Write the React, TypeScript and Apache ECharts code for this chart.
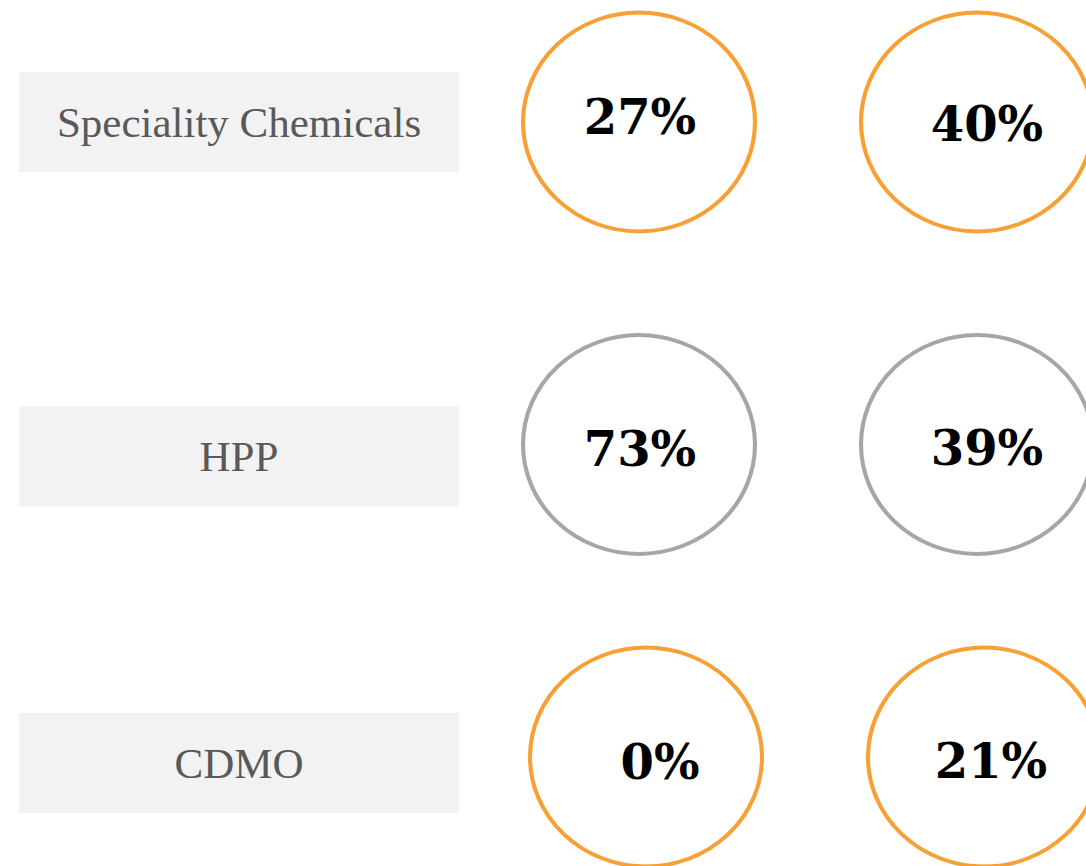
import React, { useEffect, useRef } from "react";
import * as echarts from "echarts";

const segments = ["Speciality Chemicals", "HPP", "CDMO"];
const periods = ["Period 1", "Period 2"];
const sharePeriod1 = [27, 73, 0];
const sharePeriod2 = [40, 39, 21];
const ringColors = ["#F7A035", "#A6A6A6", "#F7A035"];

// layout nudges (pixels) per row, to mimic the hand-placed slide shapes
const rowNudge = [
  [0, 0],
  [0, 5],
  [7, 0],
];
// label nudges (pixels) per column and row
const labelNudge = [
  [
    [1, -5],
    [1, 4],
    [14, 5],
  ],
  [
    [10, 2],
    [10, 3],
    [7, 4],
  ],
];

const ELLIPSE = "path://M0,50 A50,50 0 1,1 100,50 A50,50 0 1,1 0,50 Z";

export default function App() {
  const ref = useRef<HTMLDivElement>(null);
  useEffect(() => {
    if (!ref.current) return;
    const chart = echarts.init(ref.current, undefined, { renderer: "svg" });
    const makeSeries = (values: number[], col: number) => ({
      type: "scatter",
      symbol: ELLIPSE,
      symbolSize: [232, 219],
      silent: true,
      clip: false,
      data: values.map((v, row) => ({
        value: [col, row, v],
        symbolOffset: rowNudge[row],
        itemStyle: {
          color: "rgba(255,255,255,0)",
          borderColor: ringColors[row],
          borderWidth: 4,
          opacity: 1,
        },
        label: {
          offset: labelNudge[col][row],
        },
      })),
      itemStyle: { opacity: 1 },
      label: {
        show: true,
        position: "inside",
        formatter: (p: any) => `${p.value[2]}%`,
        fontFamily: "DejaVu Serif",
        fontWeight: "bold",
        fontSize: 48,
        color: "#000000",
      },
    });
    const spacer = [0, 34, 12];
    chart.setOption({
      animation: false,
      backgroundColor: "#ffffff",
      grid: { left: 639, right: 109, top: 122, bottom: 109 },
      xAxis: {
        type: "category",
        data: periods,
        boundaryGap: false,
        show: false,
      },
      yAxis: {
        type: "category",
        data: segments,
        inverse: true,
        boundaryGap: false,
        axisLine: { show: false },
        axisTick: { show: false },
        splitLine: { show: false },
        axisLabel: {
          margin: 180,
          formatter: (val: string, i: number) =>
            spacer[i] ? `{s${i}| }\n{box|${val}}` : `{box|${val}}`,
          rich: {
            box: {
              width: 440,
              height: 100,
              lineHeight: 100,
              align: "center",
              backgroundColor: "#F2F2F2",
              color: "#595959",
              fontFamily: "Liberation Serif",
              fontSize: 43,
            },
            s1: { height: 34, lineHeight: 34, fontSize: 10 },
            s2: { height: 12, lineHeight: 12, fontSize: 10 },
          },
        },
      },
      series: [makeSeries(sharePeriod1, 0), makeSeries(sharePeriod2, 1)],
    });
    return () => chart.dispose();
  }, []);
  return (
    <div
      ref={ref}
      style={{ position: "fixed", left: 0, top: 0, width: 1086, height: 866 }}
    />
  );
}
